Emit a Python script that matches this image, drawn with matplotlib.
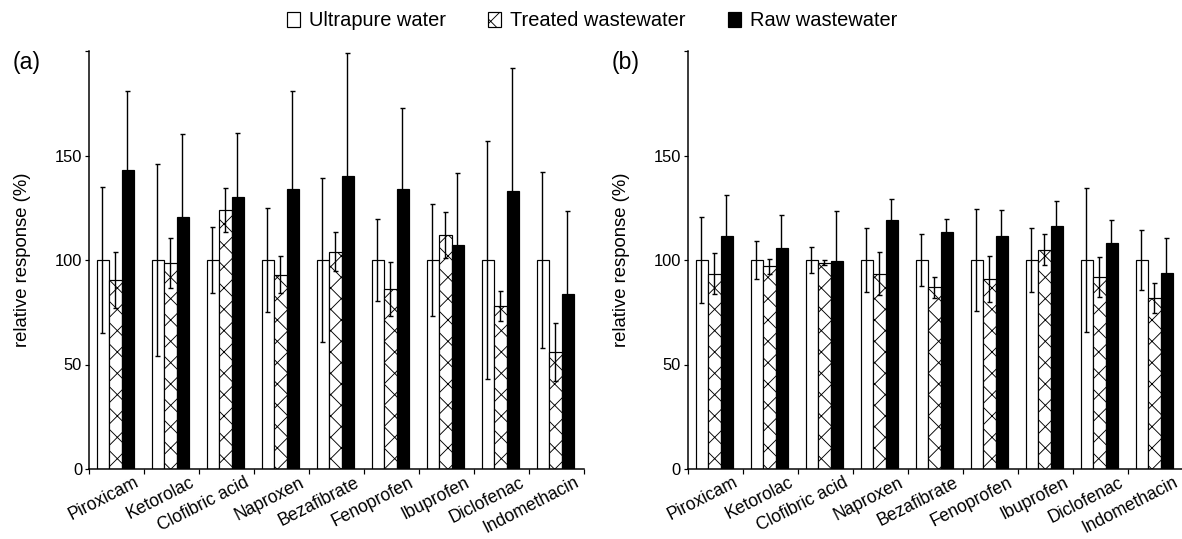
import matplotlib

matplotlib.use("Agg")
import matplotlib.pyplot as plt
import numpy as np
from matplotlib.patches import Patch

# saved at 64 dpi so the cross-hatch cell comes out near the reference size;
# sizes below are given in pixels and converted to points
DPI = 64
PX = 72 / DPI

compounds = ["Piroxicam", "Ketorolac", "Clofibric acid", "Naproxen", "Bezafibrate",
             "Fenoprofen", "Ibuprofen", "Diclofenac", "Indomethacin"]
series_names = ["Ultrapure water", "Treated wastewater", "Raw wastewater"]

# panel (a)
a_ultrapure = [100, 100, 100, 100, 100, 100, 100, 100, 100]
a_ultrapure_err = [35, 46, 16, 25, 39, 19.5, 27, 57, 42]
a_treated = [90.5, 98.5, 124, 93, 104, 86, 112, 78, 56]
a_treated_err = [13.5, 12, 10.5, 9, 9.5, 13, 11, 7, 14]
a_raw = [143, 120.5, 130, 134, 140, 134, 107, 133, 83.5]
a_raw_err = [38, 40, 31, 47, 59, 38.5, 34.5, 59, 40]

# panel (b)
b_ultrapure = [100, 100, 100, 100, 100, 100, 100, 100, 100]
b_ultrapure_err = [20.5, 9, 6, 15.5, 12.5, 24.5, 15.5, 34.5, 14.5]
b_treated = [93.5, 97, 98.7, 93.5, 87, 91, 105, 92, 82]
b_treated_err = [10, 3.7, 1.1, 10.3, 5, 11, 7.3, 9.5, 7.2]
b_raw = [111.5, 105.7, 99.5, 119.3, 113.5, 111.5, 116.2, 108, 93.6]
b_raw_err = [19.6, 16, 24, 9.7, 6.2, 12.3, 12, 11, 16.8]

plt.rcParams["font.family"] = ["Liberation Sans", "DejaVu Sans"]
plt.rcParams["hatch.linewidth"] = 0.9 * PX

fig = plt.figure(figsize=(1182 / DPI, 539 / DPI), dpi=DPI)
ax_a = fig.add_axes([89 / 1182, 70 / 539, 495 / 1182, 418 / 539])
ax_b = fig.add_axes([688 / 1182, 70 / 539, 495 / 1182, 418 / 539])

styles = [
    dict(color="white", edgecolor="black", hatch=None),
    dict(color="white", edgecolor="black", hatch="x"),
    dict(color="black", edgecolor="black", hatch=None),
]


def draw_panel(ax, values, errors, label):
    x = np.arange(len(compounds))
    width = 0.225
    offsets = [-width, 0, width]
    for vals, errs, off, st in zip(values, errors, offsets, styles):
        ax.bar(x + off - 0.02, vals, width, color=st["color"], edgecolor=st["edgecolor"],
               hatch=st["hatch"], linewidth=1.2 * PX, zorder=2)
        ax.errorbar(x + off - 0.03, vals, yerr=errs, fmt="none", ecolor="black",
                    elinewidth=1.4 * PX, capsize=2.5 * PX, capthick=1.4 * PX, zorder=3)

    ax.set_xlim(-0.5, len(compounds) - 0.5)
    ax.set_ylim(0, 200)
    ax.set_yticks([0, 50, 100, 150, 200])
    ax.set_yticklabels(["0", "50", "100", "150", ""])
    # labels sit with their right end towards the right edge of each group
    ax.set_xticks(x + 0.32)
    ax.set_xticklabels(compounds, rotation=27, ha="right", rotation_mode="anchor",
                       fontsize=17.5 * PX)
    ax.set_xticks(np.arange(len(compounds) + 1) - 0.5, minor=True)
    ax.tick_params(axis="x", which="major", length=0, pad=5 * PX)
    ax.tick_params(axis="x", which="minor", length=5 * PX, width=1.2 * PX, direction="out")
    ax.tick_params(axis="y", length=4 * PX, width=1.2 * PX, labelsize=16.5 * PX, pad=3 * PX)
    ax.set_ylabel("relative response (%)", fontsize=18.5 * PX, labelpad=24 * PX)
    ax.spines["top"].set_visible(False)
    ax.spines["right"].set_visible(False)
    ax.spines["left"].set_linewidth(1.5 * PX)
    ax.spines["bottom"].set_linewidth(1.5 * PX)
    ax.text(-0.155, 1.0, label, transform=ax.transAxes, fontsize=23 * PX,
            ha="left", va="top")


draw_panel(ax_a, [a_ultrapure, a_treated, a_raw],
           [a_ultrapure_err, a_treated_err, a_raw_err], "(a)")
draw_panel(ax_b, [b_ultrapure, b_treated, b_raw],
           [b_ultrapure_err, b_treated_err, b_raw_err], "(b)")

handles = [Patch(facecolor=st["color"], edgecolor="black", hatch=st["hatch"],
                 linewidth=1.2 * PX) for st in styles]
fig.legend(handles, series_names, loc="center", bbox_to_anchor=(592 / 1182, 1 - 21 / 539),
           ncol=3, frameon=False, fontsize=20 * PX, handlelength=0.65,
           handleheight=0.75, handletextpad=0.45, columnspacing=2.1)

fig.savefig("out.png", dpi=DPI)
plt.close(fig)
